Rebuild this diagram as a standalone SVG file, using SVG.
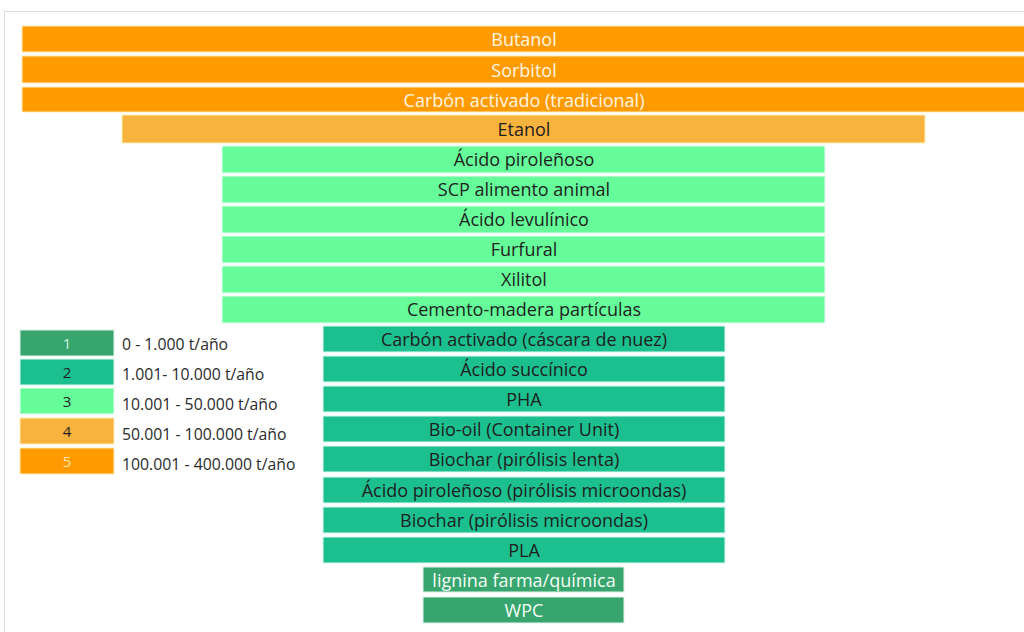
<svg xmlns="http://www.w3.org/2000/svg" width="1024" height="632" viewBox="0 0 1024 632">
<style>
text{font-family:"Open Sans",Lato,"Liberation Sans",sans-serif;font-size:18px;text-anchor:middle;dominant-baseline:central}
.o5{fill:#FF9A00;stroke:#FFEFB8;stroke-width:1}
.o4{fill:#F8B23E;stroke:#FFEFB8;stroke-width:1}
.g3{fill:#66FC9A;stroke:#E8FFF0;stroke-width:1}
.g2{fill:#1CC08F;stroke:#E0F8EE;stroke-width:1}
.g1{fill:#38A56E;stroke:#E0F4EA;stroke-width:1}
.lt{fill:#FFF6E4}
.dk{fill:#1E1E1E}
.wt{fill:#F4FFF8}
.leg{font-size:15.8px;text-anchor:start;fill:#2a2a2a}
.num{font-size:15px}
</style>
<rect x="0" y="0" width="1024" height="632" fill="#FFFFFF"/>
<rect x="4.5" y="11.5" width="1030" height="630" fill="none" stroke="#DCDCDC" stroke-width="1"/>
<g id="butanol"><rect class="o5" x="22" y="26" width="1010" height="26"/><text class="lt" x="524" y="39">Butanol</text></g>
<g id="sorbitol"><rect class="o5" x="22" y="56" width="1010" height="27"/><text class="lt" x="524" y="70">Sorbitol</text></g>
<g id="carbon-tradicional"><rect class="o5" x="22" y="87" width="1010" height="25"/><text class="lt" x="524" y="100">Carbón activado (tradicional)</text></g>
<g id="etanol"><rect class="o4" x="122" y="115" width="803" height="28"/><text class="dk" x="524" y="129">Etanol</text></g>
<g id="acido-pirolenoso"><rect class="g3" x="222" y="146" width="603" height="27"/><text class="dk" x="524" y="159">Ácido piroleñoso</text></g>
<g id="scp"><rect class="g3" x="222" y="176" width="603" height="27"/><text class="dk" x="524" y="189">SCP alimento animal</text></g>
<g id="levulinico"><rect class="g3" x="222" y="206" width="603" height="27"/><text class="dk" x="524" y="219">Ácido levulínico</text></g>
<g id="furfural"><rect class="g3" x="222" y="236" width="603" height="27"/><text class="dk" x="524" y="249">Furfural</text></g>
<g id="xilitol"><rect class="g3" x="222" y="266" width="603" height="27"/><text class="dk" x="524" y="279">Xilitol</text></g>
<g id="cemento"><rect class="g3" x="222" y="296" width="603" height="27"/><text class="dk" x="524" y="309">Cemento-madera partículas</text></g>
<g id="carbon-nuez"><rect class="g2" x="323" y="326" width="402" height="26"/><text class="dk" x="524" y="339">Carbón activado (cáscara de nuez)</text></g>
<g id="succinico"><rect class="g2" x="323" y="356" width="402" height="26"/><text class="dk" x="524" y="369">Ácido succínico</text></g>
<g id="pha"><rect class="g2" x="323" y="386" width="402" height="26"/><text class="dk" x="524" y="399">PHA</text></g>
<g id="bio-oil"><rect class="g2" x="323" y="416" width="402" height="26"/><text class="dk" x="524" y="429">Bio-oil (Container Unit)</text></g>
<g id="biochar-lenta"><rect class="g2" x="323" y="446" width="402" height="26"/><text class="dk" x="524" y="459">Biochar (pirólisis lenta)</text></g>
<g id="pirolenoso-micro"><rect class="g2" x="323" y="477" width="402" height="26"/><text class="dk" x="524" y="490">Ácido piroleñoso (pirólisis microondas)</text></g>
<g id="biochar-micro"><rect class="g2" x="323" y="507" width="402" height="26"/><text class="dk" x="524" y="520">Biochar (pirólisis microondas)</text></g>
<g id="pla"><rect class="g2" x="323" y="537" width="402" height="26"/><text class="dk" x="524" y="550">PLA</text></g>
<g id="lignina"><rect class="g1" x="423" y="567" width="201" height="25"/><text class="wt" x="524" y="580">lignina farma/química</text></g>
<g id="wpc"><rect class="g1" x="423" y="597" width="201" height="26"/><text class="wt" x="524" y="610">WPC</text></g>
<g id="legend">
<g id="leg1"><rect class="g1" x="20" y="330" width="94" height="26"/><text class="num" x="67" y="343" fill="#CFF2DD">1</text><text class="leg" x="122" y="344">0 - 1.000 t/año</text></g>
<g id="leg2"><rect class="g2" x="20" y="359" width="94" height="26"/><text class="num dk" x="67" y="372">2</text><text class="leg" x="122" y="374">1.001- 10.000 t/año</text></g>
<g id="leg3"><rect class="g3" x="20" y="388" width="94" height="26"/><text class="num dk" x="67" y="401">3</text><text class="leg" x="122" y="404">10.001 - 50.000 t/año</text></g>
<g id="leg4"><rect class="o4" x="20" y="418" width="94" height="26"/><text class="num dk" x="67" y="431">4</text><text class="leg" x="122" y="434">50.001 - 100.000 t/año</text></g>
<g id="leg5"><rect class="o5" x="20" y="448" width="94" height="26"/><text class="num" x="67" y="461" fill="#FFE7B0">5</text><text class="leg" x="122" y="464">100.001 - 400.000 t/año</text></g>
</g>
<g id="connectors"/>
</svg>
